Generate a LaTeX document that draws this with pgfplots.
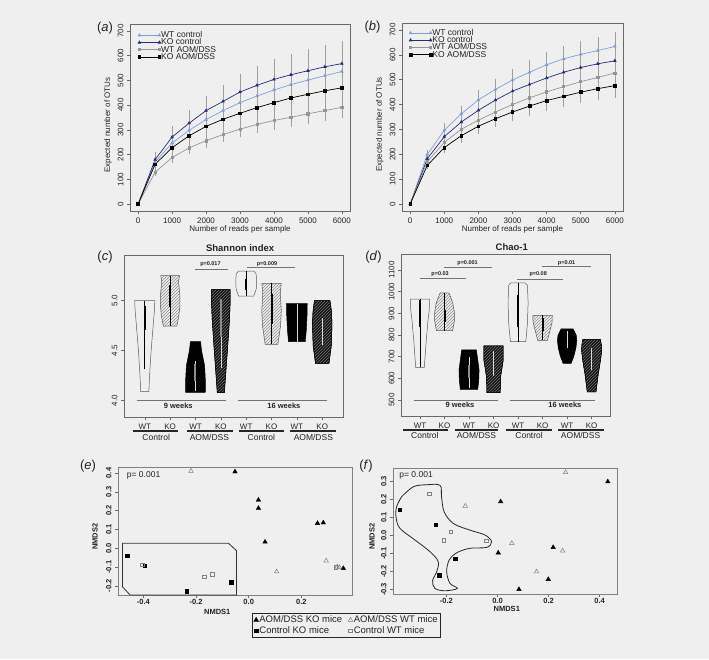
\documentclass[border=0pt]{standalone}
\usepackage{fontspec}
\setmainfont{Liberation Sans}
\usepackage{pgfplots}
\pgfplotsset{compat=1.18}
\usetikzlibrary{patterns}
\definecolor{bgc}{RGB}{239,239,239}
\definecolor{lblue}{RGB}{128,158,214}
\definecolor{dblue}{RGB}{38,44,120}
\definecolor{mgrey}{RGB}{150,150,150}
\definecolor{axc}{RGB}{105,105,105}
\definecolor{txt}{RGB}{35,35,35}
\newcommand\fs[1]{\fontsize{#1}{#1}\selectfont}
\pgfplotsset{
  base/.style={scale only axis, anchor=south west, clip=false,
    axis line style={draw=axc, line width=0.6pt},
    tick style={draw=axc, line width=0.5pt}, tick align=outside, major tick length=3pt,
    xtick pos=left, ytick pos=left,
    /pgf/number format/assume math mode=true, /pgf/number format/1000 sep={},
    yticklabel style={rotate=90, anchor=south},
    tick label style={text=txt, font=\fs{8}},
    label style={text=txt, font=\fs{8}}},
  rare/.style={base, xmin=-240, xmax=6240, ymin=-28, ymax=728,
    xtick={0,1000,...,6000}, ytick={0,100,...,700},
    xlabel={Number of reads per sample}, ylabel={Expected number of OTUs},
    xlabel style={at={(axis description cs:0.5,-0.1)}, anchor=center},
    ylabel style={at={(axis description cs:-0.1,0.46)}, anchor=center},
    legend cell align=left,
    legend image code/.code={\draw[##1] plot coordinates {(0pt,0pt) (20pt,0pt)};},
    legend style={anchor=north west, draw=none, fill=none, inner sep=0pt, font=\fs{8.5}, text=txt,
      nodes={inner sep=0.5pt, text height=5.6pt, text depth=0.6pt}, row sep=0pt}},
  eb/.style={error bars/y dir=both, error bars/y explicit, error bars/error mark=none,
    error bars/error bar style={black!38, line width=0.5pt}},
  sWTc/.style={lblue, line width=0.7pt, mark=triangle*, mark size=1.4pt, eb},
  sKOc/.style={dblue, line width=0.7pt, mark=triangle*, mark size=1.4pt, eb},
  sWTa/.style={mgrey, line width=0.7pt, mark=square*, mark size=1.1pt, eb},
  sKOa/.style={black, line width=0.7pt, mark=square*, mark size=1.3pt, eb},
  vio/.style={base, xtick={1,...,8}, xticklabels={WT,KO,WT,KO,WT,KO,WT,KO},
    xticklabel style={font=\fs{8}}},
  vwhite/.style={draw=black!65, line width=0.5pt},
  vlight/.style={draw=black!65, line width=0.5pt, pattern=north east lines, pattern color=black!45},
  vblack/.style={draw=black, line width=0.5pt, fill=black},
  vdark/.style={draw=black, line width=0.5pt, fill=black!92, postaction={pattern=north east lines, pattern color=black!55}},
  ithin/.style={black, line width=0.6pt},
  ithick/.style={black, line width=2pt},
  wthin/.style={white!85!black, line width=0.6pt},
  wthick/.style={black!45, line width=2pt},
  nm/.style={base, tick label style={font=\bfseries\fs{7.5}},
    label style={font=\bfseries\fs{7.5}},
    axis line style={draw=black!50, line width=0.6pt},
    xticklabel style={yshift=2pt, /pgf/number format/.cd, fixed, fixed zerofill, precision=1},
    yticklabel style={/pgf/number format/.cd, fixed, fixed zerofill, precision=1}},
  ftri/.style={only marks, mark=triangle*, mark size=2.6pt, mark options={draw=black, fill=black}},
  otri/.style={only marks, mark=triangle, mark size=2.6pt, mark options={draw=black!50, line width=0.5pt}},
  fsq/.style={only marks, mark=square*, mark size=1.7pt, mark options={draw=black, fill=black}},
  osq/.style={only marks, mark=square, mark size=1.8pt, mark options={draw=black!50, line width=0.5pt}},
}
\begin{document}
\begin{tikzpicture}
\fill[bgc] (0pt,0pt) rectangle (709pt,-659pt);
\useasboundingbox (0pt,0pt) rectangle (709pt,-659pt);

% ---------------- (a)
\begin{axis}[rare, at={(130pt,-211pt)}, width=220pt, height=187pt,
  legend style={at={(axis description cs:0.036,0.96)}}]
\addplot[sWTc] coordinates {(0,0)+-(0,0) (500,170)+-(0,26) (1000,247)+-(0,37) (1500,298)+-(0,45) (2000,342)+-(0,51) (2500,378)+-(0,57) (3000,410)+-(0,62) (3500,437)+-(0,66) (4000,461)+-(0,69) (4500,483)+-(0,72) (5000,501)+-(0,75) (5500,519)+-(0,78) (6000,536)+-(0,80)};
\addlegendentry{WT control}
\addplot[sKOc] coordinates {(0,0)+-(0,0) (500,180)+-(0,29) (1000,271)+-(0,43) (1500,327)+-(0,52) (2000,378)+-(0,60) (2500,415)+-(0,66) (3000,453)+-(0,72) (3500,480)+-(0,77) (4000,504)+-(0,81) (4500,523)+-(0,84) (5000,539)+-(0,86) (5500,555)+-(0,89) (6000,568)+-(0,91)};
\addlegendentry{KO control}
\addplot[sWTa] coordinates {(0,0)+-(0,0) (500,129)+-(0,14) (1000,188)+-(0,21) (1500,227)+-(0,25) (2000,256)+-(0,28) (2500,281)+-(0,31) (3000,303)+-(0,33) (3500,322)+-(0,35) (4000,338)+-(0,37) (4500,351)+-(0,39) (5000,365)+-(0,40) (5500,378)+-(0,42) (6000,391)+-(0,43)};
\addlegendentry{WT AOM/DSS}
\addplot[sKOa] coordinates {(0,0)+-(0,0) (500,161)+-(0,23) (1000,228)+-(0,32) (1500,276)+-(0,39) (2000,314)+-(0,44) (2500,343)+-(0,48) (3000,367)+-(0,51) (3500,390)+-(0,55) (4000,410)+-(0,57) (4500,429)+-(0,60) (5000,444)+-(0,62) (5500,458)+-(0,64) (6000,470)+-(0,66)};
\addlegendentry{KO AOM/DSS}
\end{axis}

% ---------------- (b)
\begin{axis}[rare, at={(402pt,-211pt)}, width=221pt, height=188pt,
  legend style={at={(axis description cs:0.032,0.967)}}]
\addplot[sWTc] coordinates {(0,0)+-(0,0) (500,199)+-(0,18) (1000,297)+-(0,27) (1500,363)+-(0,33) (2000,419)+-(0,38) (2500,461)+-(0,41) (3000,499)+-(0,45) (3500,530)+-(0,48) (4000,560)+-(0,50) (4500,584)+-(0,53) (5000,602)+-(0,54) (5500,617)+-(0,56) (6000,634)+-(0,57)};
\addlegendentry{WT control}
\addplot[sKOc] coordinates {(0,0)+-(0,0) (500,182)+-(0,15) (1000,271)+-(0,22) (1500,330)+-(0,26) (2000,377)+-(0,30) (2500,418)+-(0,33) (3000,454)+-(0,36) (3500,481)+-(0,38) (4000,507)+-(0,41) (4500,530)+-(0,42) (5000,549)+-(0,44) (5500,564)+-(0,45) (6000,576)+-(0,46)};
\addlegendentry{KO control}
\addplot[sWTa] coordinates {(0,0)+-(0,0) (500,170)+-(0,12) (1000,248)+-(0,17) (1500,301)+-(0,21) (2000,337)+-(0,24) (2500,370)+-(0,26) (3000,400)+-(0,28) (3500,427)+-(0,30) (4000,451)+-(0,32) (4500,472)+-(0,33) (5000,492)+-(0,34) (5500,509)+-(0,36) (6000,527)+-(0,37)};
\addlegendentry{WT AOM/DSS}
\addplot[sKOa] coordinates {(0,0)+-(0,0) (500,155)+-(0,16) (1000,227)+-(0,23) (1500,275)+-(0,28) (2000,313)+-(0,31) (2500,343)+-(0,34) (3000,370)+-(0,37) (3500,394)+-(0,39) (4000,416)+-(0,42) (4500,433)+-(0,43) (5000,450)+-(0,45) (5500,464)+-(0,46) (6000,476)+-(0,48)};
\addlegendentry{KO AOM/DSS}
\end{axis}

% ---------------- (c)
\begin{axis}[vio, at={(124pt,-417.3pt)}, width=219pt, height=162.3pt,
  xmin=0.18, xmax=8.82, ymin=3.834, ymax=5.457, ytick={4,4.5,5},
  yticklabel style={/pgf/number format/.cd, fixed, fixed zerofill, precision=1}]
\addplot[vwhite] coordinates {(1.397,5.0)(1.38,4.9)(1.33,4.75)(1.25,4.5)(1.2,4.3)(1.159,4.09)(0.841,4.09)(0.8,4.3)(0.75,4.5)(0.67,4.75)(0.62,4.9)(0.603,5.0)} -- cycle;
\addplot[vlight] coordinates {(2.37,5.25)(2.33,5.19)(2.385,5.05)(2.385,4.95)(2.34,4.84)(2.265,4.745)(1.735,4.745)(1.66,4.84)(1.615,4.95)(1.615,5.05)(1.67,5.19)(1.63,5.25)} -- cycle;
\addplot[vblack] coordinates {(3.2,4.59)(3.24,4.5)(3.36,4.35)(3.39,4.2)(3.385,4.084)(2.615,4.084)(2.61,4.2)(2.64,4.35)(2.76,4.5)(2.8,4.59)} -- cycle;
\addplot[vdark] coordinates {(4.37,5.11)(4.37,5.0)(4.337,4.8)(4.258,4.5)(4.2,4.3)(4.139,4.08)(3.861,4.08)(3.8,4.3)(3.742,4.5)(3.663,4.8)(3.63,5.0)(3.63,5.11)} -- cycle;
\addplot[vwhite] coordinates {(5.3,5.297)(5.39,5.27)(5.41,5.22)(5.4,5.12)(5.3,5.047)(4.7,5.047)(4.6,5.12)(4.59,5.22)(4.61,5.27)(4.7,5.297)} -- cycle;
\addplot[vlight] coordinates {(6.385,5.174)(6.345,5.08)(6.385,4.9)(6.357,4.75)(6.25,4.564)(5.75,4.564)(5.643,4.75)(5.615,4.9)(5.655,5.08)(5.615,5.174)} -- cycle;
\addplot[vblack] coordinates {(7.41,4.97)(7.40,4.85)(7.37,4.7)(7.33,4.59)(6.67,4.59)(6.63,4.7)(6.60,4.85)(6.59,4.97)} -- cycle;
\addplot[vdark] coordinates {(8.305,5.0)(8.36,4.9)(8.385,4.77)(8.357,4.55)(8.265,4.374)(7.735,4.374)(7.643,4.55)(7.615,4.77)(7.64,4.9)(7.695,5.0)} -- cycle;
\addplot[ithin] coordinates {(1,4.32)(1,5.0)};
\addplot[ithick] coordinates {(1,4.71)(1,4.95)};
\addplot[ithin] coordinates {(2,4.745)(2,5.25)};
\addplot[ithick] coordinates {(2,4.94)(2,5.157)};
\addplot[wthin] coordinates {(3,4.1)(3,4.4)};
\addplot[wthick] coordinates {(3,4.2)(3,4.37)};
\addplot[wthin] coordinates {(4,4.33)(4,5.02)};
\addplot[wthick] coordinates {(4,4.64)(4,5.02)};
\addplot[ithin] coordinates {(5,5.047)(5,5.297)};
\addplot[ithick] coordinates {(5,5.11)(5,5.22)};
\addplot[ithin] coordinates {(6,4.564)(6,5.174)};
\addplot[ithick] coordinates {(6,4.77)(6,5.07)};
\addplot[wthin] coordinates {(7,4.59)(7,4.97)};
\addplot[wthin] coordinates {(8,4.56)(8,4.83)};
\draw[black!55, line width=0.6pt] (axis cs:3.0,5.314) -- (axis cs:4.27,5.314);
\node[font=\bfseries\fs{5.5}, text=txt] at (axis cs:3.59,5.367) {p=0.017};
\draw[black!55, line width=0.6pt] (axis cs:5.02,5.33) -- (axis cs:6.93,5.33);
\node[font=\bfseries\fs{5.5}, text=txt] at (axis cs:5.82,5.367) {p=0.009};
\draw[black!55, line width=0.6pt] (axis cs:0.68,4.0) -- (axis cs:4.19,4.0);
\node[font=\bfseries\fs{7.5}, text=txt] at (axis cs:2.32,3.95) {9 weeks};
\draw[black!55, line width=0.6pt] (axis cs:4.69,4.0) -- (axis cs:8.2,4.0);
\node[font=\bfseries\fs{7.5}, text=txt] at (axis cs:6.49,3.95) {16 weeks};
\node[font=\bfseries\fs{9.5}, text=txt, anchor=south] at (rel axis cs:0.53,1) {Shannon index};
\draw[black!85, line width=1.3pt] (axis cs:0.535,3.697) -- (axis cs:2.32,3.697);
\draw[black!85, line width=1.3pt] (axis cs:2.68,3.697) -- (axis cs:4.47,3.697);
\draw[black!85, line width=1.3pt] (axis cs:4.7,3.697) -- (axis cs:6.5,3.697);
\draw[black!85, line width=1.3pt] (axis cs:6.73,3.697) -- (axis cs:8.55,3.697);
\node[font=\fs{8.5}, text=txt] at (axis cs:1.45,3.63) {Control};
\node[font=\fs{8.5}, text=txt] at (axis cs:3.55,3.63) {AOM/DSS};
\node[font=\fs{8.5}, text=txt] at (axis cs:5.6,3.63) {Control};
\node[font=\fs{8.5}, text=txt] at (axis cs:7.65,3.63) {AOM/DSS};
\end{axis}

% ---------------- (d)
\begin{axis}[vio, at={(401pt,-416pt)}, width=209pt, height=162pt,
  xmin=0.225, xmax=8.75, ymin=426, ymax=1174, ytick={500,600,...,1100}]
\addplot[vwhite] coordinates {(1.395,966)(1.38,920)(1.32,860)(1.245,760)(1.175,651)(0.825,651)(0.755,760)(0.68,860)(0.62,920)(0.605,966)} -- cycle;
\addplot[vlight] coordinates {(2.177,995)(2.25,975)(2.34,946)(2.41,900)(2.41,870)(2.33,820)(1.67,820)(1.59,870)(1.59,900)(1.66,946)(1.75,975)(1.823,995)} -- cycle;
\addplot[vblack] coordinates {(3.3,731)(3.355,685)(3.41,638)(3.395,590)(3.355,549)(2.645,549)(2.605,590)(2.59,638)(2.645,685)(2.7,731)} -- cycle;
\addplot[vdark] coordinates {(4.395,750)(4.395,685)(4.285,607)(4.27,534)(3.73,534)(3.715,607)(3.605,685)(3.605,750)} -- cycle;
\addplot[vwhite] coordinates {(5.29,1041)(5.38,1030)(5.41,950)(5.38,850)(5.314,769)(4.686,769)(4.62,850)(4.59,950)(4.62,1030)(4.71,1041)} -- cycle;
\addplot[vlight] coordinates {(6.395,891)(6.39,860)(6.3,820)(6.2,775)(5.8,775)(5.7,820)(5.61,860)(5.605,891)} -- cycle;
\addplot[vblack] coordinates {(7.245,828)(7.37,800)(7.395,775)(7.36,740)(7.27,700)(7.163,669)(6.837,669)(6.73,700)(6.64,740)(6.605,775)(6.63,800)(6.755,828)} -- cycle;
\addplot[vdark] coordinates {(8.355,780)(8.395,755)(8.41,731)(8.37,690)(8.27,620)(8.177,538)(7.823,538)(7.73,620)(7.63,690)(7.59,731)(7.605,755)(7.645,780)} -- cycle;
\addplot[ithin] coordinates {(1,651)(1,966)};
\addplot[ithick] coordinates {(1,838)(1,961)};
\addplot[ithin] coordinates {(2,820)(2,995)};
\addplot[ithick] coordinates {(2,860)(2,915)};
\addplot[wthin] coordinates {(3,555)(3,700)};
\addplot[wthick] coordinates {(3,600)(3,660)};
\addplot[wthin] coordinates {(4,610)(4,725)};
\addplot[ithin] coordinates {(5,769)(5,1041)};
\addplot[ithick] coordinates {(5,835)(5,985)};
\addplot[ithin] coordinates {(6,775)(6,891)};
\addplot[ithick] coordinates {(6,820)(6,880)};
\addplot[wthin] coordinates {(7,740)(7,820)};
\addplot[wthin] coordinates {(8,640)(8,740)};
\draw[black!55, line width=0.6pt] (axis cs:1.0,1060) -- (axis cs:2.86,1060);
\node[font=\bfseries\fs{5.5}, text=txt] at (axis cs:1.82,1081) {p=0.03};
\draw[black!55, line width=0.6pt] (axis cs:1.98,1112) -- (axis cs:3.94,1112);
\node[font=\bfseries\fs{5.5}, text=txt] at (axis cs:2.94,1134) {p=0.001};
\draw[black!55, line width=0.6pt] (axis cs:4.97,1058) -- (axis cs:6.83,1058);
\node[font=\bfseries\fs{5.5}, text=txt] at (axis cs:5.82,1080) {p=0.08};
\draw[black!55, line width=0.6pt] (axis cs:5.96,1115) -- (axis cs:7.96,1115);
\node[font=\bfseries\fs{5.5}, text=txt] at (axis cs:6.98,1134) {p=0.01};
\draw[black!55, line width=0.6pt] (axis cs:0.755,500) -- (axis cs:4.17,500);
\node[font=\bfseries\fs{7.5}, text=txt] at (axis cs:2.63,477) {9 weeks};
\draw[black!55, line width=0.6pt] (axis cs:4.67,500) -- (axis cs:8.13,500);
\node[font=\bfseries\fs{7.5}, text=txt] at (axis cs:6.91,477) {16 weeks};
\node[font=\bfseries\fs{9.5}, text=txt, anchor=south] at (rel axis cs:0.53,1) {Chao-1};
\draw[black!85, line width=1.3pt] (axis cs:0.295,361.6) -- (axis cs:2.15,361.6);
\draw[black!85, line width=1.3pt] (axis cs:2.43,361.6) -- (axis cs:4.19,361.6);
\draw[black!85, line width=1.3pt] (axis cs:4.5,361.6) -- (axis cs:6.37,361.6);
\draw[black!85, line width=1.3pt] (axis cs:6.64,361.6) -- (axis cs:8.5,361.6);
\node[font=\fs{8.5}, text=txt] at (axis cs:1.2,335) {Control};
\node[font=\fs{8.5}, text=txt] at (axis cs:3.3,335) {AOM/DSS};
\node[font=\fs{8.5}, text=txt] at (axis cs:5.45,335) {Control};
\node[font=\fs{8.5}, text=txt] at (axis cs:7.55,335) {AOM/DSS};
\end{axis}

% ---------------- (e)
\begin{axis}[nm, at={(118pt,-595pt)}, width=234pt, height=128pt,
  xmin=-0.496, xmax=0.392, ymin=-0.248, ymax=0.432,
  xtick={-0.4,-0.2,0,0.2}, ytick={-0.2,-0.1,0,0.1,0.2,0.3,0.4},
  xlabel={NMDS1}, ylabel={NMDS2},
  xlabel style={at={(axis description cs:0.424,-0.135)}, anchor=center},
  ylabel style={at={(axis description cs:-0.098,0.455)}, anchor=center},
  legend columns=2, legend cell align=left,
  legend style={at={(axis description cs:0.573,-0.14)}, anchor=north west, draw=black!85, line width=0.6pt, fill=bgc,
    font=\fs{9.5}, text=txt, inner sep=1.5pt,
    nodes={inner sep=1pt, text height=6.8pt, text depth=1.8pt},
    /tikz/every even column/.append style={column sep=5pt}}]
\addplot[ftri] coordinates {(-0.052,0.407)(0.037,0.257)(0.037,0.213)(0.062,0.034)(0.261,0.133)(0.283,0.136)(0.359,-0.106)};
\addlegendentry{AOM/DSS KO mice}
\addplot[otri] coordinates {(-0.219,0.411)(0.106,-0.124)(0.294,-0.066)(0.336,-0.098)(0.344,-0.101)};
\addlegendentry{AOM/DSS WT mice}
\addplot[fsq] coordinates {(-0.461,-0.039)(-0.394,-0.093)(-0.235,-0.227)(-0.067,-0.181)};
\addlegendentry{Control KO mice}
\addplot[osq] coordinates {(-0.404,-0.087)(-0.169,-0.151)(-0.138,-0.137)(0.33,-0.1)};
\addlegendentry{Control WT mice}
\addplot[black!80, line width=0.8pt, forget plot] coordinates {(-0.479,0.027)(-0.077,0.027)(-0.046,-0.013)(-0.046,-0.248)(-0.45,-0.248)(-0.479,-0.204)} -- cycle;
\node[font=\fs{8.5}, text=txt, anchor=west] at (rel axis cs:0.023,0.9375) {p= 0.001};
\end{axis}

% ---------------- (f)
\begin{axis}[nm, at={(393pt,-594pt)}, width=224pt, height=126pt,
  xmin=-0.409, xmax=0.468, ymin=-0.326, ymax=0.374,
  xtick={-0.2,0,0.2,0.4}, ytick={-0.3,-0.2,-0.1,0,0.1,0.2,0.3},
  xlabel={NMDS1}, ylabel={NMDS2},
  xlabel style={at={(axis description cs:0.508,-0.118)}, anchor=center},
  ylabel style={at={(axis description cs:-0.094,0.455)}, anchor=center}]
\addplot[ftri] coordinates {(0.0125,0.187)(0.432,0.298)(0.003,-0.097)(0.218,-0.067)(0.199,-0.244)(0.084,-0.30)};
\addplot[otri] coordinates {(0.267,0.35)(-0.126,0.163)(0.056,-0.044)(0.255,-0.086)(0.153,-0.202)};
\addplot[fsq] coordinates {(-0.382,0.141)(-0.241,0.059)(-0.165,-0.13)(-0.228,-0.221)};
\addplot[osq] coordinates {(-0.268,0.231)(-0.183,0.02)(-0.211,-0.026)(-0.045,-0.03)};
\addplot[black!85, line width=0.8pt, smooth, tension=0.55] coordinates {(-0.375,0.215)(-0.329,0.270)(-0.277,0.281)(-0.225,0.278)(-0.219,0.215)(-0.209,0.131)(-0.173,0.066)(-0.108,0.029)(-0.049,0.002)(-0.023,-0.035)(-0.042,-0.067)(-0.108,-0.072)(-0.160,-0.097)(-0.189,-0.137)(-0.199,-0.202)(-0.186,-0.267)(-0.157,-0.295)(-0.205,-0.308)(-0.245,-0.295)(-0.254,-0.252)(-0.238,-0.202)(-0.232,-0.146)(-0.264,-0.091)(-0.323,-0.026)(-0.382,0.039)(-0.397,0.100)(-0.395,0.159)(-0.375,0.215)};
\node[font=\fs{8.5}, text=txt, anchor=west] at (rel axis cs:0.013,0.944) {p= 0.001};
\end{axis}

\node[font=\fs{13}, text=txt] at (105pt,-28pt) {(\textit{a})};
\node[font=\fs{13}, text=txt] at (372.5pt,-27.5pt) {(\textit{b})};
\node[font=\fs{13}, text=txt] at (105pt,-257pt) {(\textit{c})};
\node[font=\fs{13}, text=txt] at (373.5pt,-257.5pt) {(\textit{d})};
\node[font=\fs{13}, text=txt] at (88pt,-466pt) {(\textit{e})};
\node[font=\fs{13}, text=txt] at (366pt,-466pt) {(\textit{f})};
\end{tikzpicture}
\end{document}
